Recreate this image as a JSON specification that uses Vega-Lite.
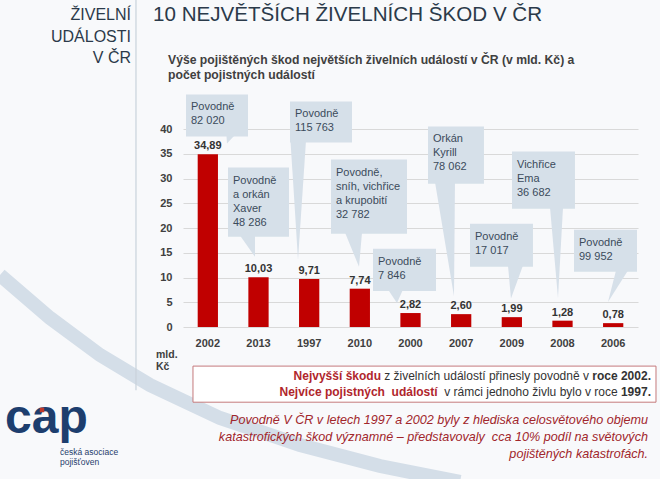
{
  "$schema": "https://vega.github.io/schema/vega-lite/v6.json",
  "width": 455,
  "height": 198,
  "autosize": {"type": "none"},
  "padding": {"left": 183, "top": 129, "right": 22, "bottom": 152},
  "background": "#f8f9fb",
  "config": {
    "view": {"stroke": null},
    "font": "Liberation Sans",
    "locale": {"number": {"decimal": ",", "thousands": "\u00a0", "grouping": [3], "currency": ["", " Kč"]}}
  },
  "datasets": {
    "bars": [
      {"year": "2002", "value": 34.89, "event": "Povodně", "claims": 82020},
      {"year": "2013", "value": 10.03, "event": "Povodně\na orkán\nXaver", "claims": 48286},
      {"year": "1997", "value": 9.71, "event": "Povodně", "claims": 115763},
      {"year": "2010", "value": 7.74, "event": "Povodně,\nsníh, vichřice\na krupobití", "claims": 32782},
      {"year": "2000", "value": 2.82, "event": "Povodně", "claims": 7846},
      {"year": "2007", "value": 2.60, "event": "Orkán\nKyrill", "claims": 78062},
      {"year": "2009", "value": 1.99, "event": "Povodně", "claims": 17017},
      {"year": "2008", "value": 1.28, "event": "Vichřice\nEma", "claims": 36682},
      {"year": "2006", "value": 0.78, "event": "Povodně", "claims": 99952}
    ],
    "callouts": [
      {"year": "2002", "x1": -0.431, "x2": 0.793, "top": 46.99, "bottom": 38.48},
      {"year": "2013", "x1": 0.398, "x2": 1.602, "top": 32.20, "bottom": 18.23},
      {"year": "1997", "x1": 1.622, "x2": 2.845, "top": 45.57, "bottom": 37.27},
      {"year": "2010", "x1": 2.431, "x2": 3.931, "top": 33.82, "bottom": 18.84},
      {"year": "2000", "x1": 3.260, "x2": 4.503, "top": 15.80, "bottom": 7.29},
      {"year": "2007", "x1": 4.345, "x2": 5.450, "top": 40.51, "bottom": 28.96},
      {"year": "2009", "x1": 5.174, "x2": 6.417, "top": 20.86, "bottom": 12.15},
      {"year": "2008", "x1": 6.003, "x2": 7.246, "top": 35.44, "bottom": 23.90},
      {"year": "2006", "x1": 7.227, "x2": 8.470, "top": 19.65, "bottom": 11.14}
    ],
    "pointers": [
      {"id": "2002", "py": 38.8, "pl": 0.368, "pr": 0.536},
      {"id": "2002", "py": 37.06, "pl": 0.378, "pr": 0.378},
      {"id": "2013", "py": 18.5, "pl": 0.635, "pr": 0.931},
      {"id": "2013", "py": 14.18, "pl": 0.931, "pr": 0.931},
      {"id": "1997", "py": 37.6, "pl": 1.632, "pr": 1.937},
      {"id": "1997", "py": 13.57, "pl": 1.780, "pr": 1.780},
      {"id": "2010", "py": 19.1, "pl": 2.707, "pr": 3.043},
      {"id": "2010", "py": 12.15, "pl": 2.984, "pr": 2.984},
      {"id": "2000", "py": 7.6, "pl": 3.556, "pr": 3.852},
      {"id": "2000", "py": 4.86, "pl": 3.733, "pr": 3.733},
      {"id": "2007", "py": 29.3, "pl": 4.483, "pr": 4.878},
      {"id": "2007", "py": 6.28, "pl": 4.858, "pr": 4.858},
      {"id": "2009", "py": 12.4, "pl": 5.924, "pr": 6.220},
      {"id": "2009", "py": 5.77, "pl": 5.983, "pr": 5.983},
      {"id": "2008", "py": 24.2, "pl": 6.753, "pr": 7.010},
      {"id": "2008", "py": 5.87, "pl": 6.911, "pr": 6.911},
      {"id": "2006", "py": 11.4, "pl": 8.056, "pr": 8.292},
      {"id": "2006", "py": 5.06, "pl": 7.898, "pr": 7.898}
    ],
    "swoosh": [
      {"sx": -4.102, "sy": 10.51},
      {"sx": -3.115, "sy": 1.82},
      {"sx": -2.128, "sy": -5.66},
      {"sx": -1.141, "sy": -11.72},
      {"sx": 0.240, "sy": -18.38},
      {"sx": 1.819, "sy": -23.84},
      {"sx": 3.398, "sy": -28.08},
      {"sx": 4.977, "sy": -31.31}
    ]
  },
  "resolve": {"scale": {"x": "independent", "y": "independent"}},
  "layer": [
    {
      "data": {"name": "bars"},
      "encoding": {
        "x": {"field": "year", "type": "nominal", "sort": null,
              "scale": {"paddingInner": 0.6, "paddingOuter": 0.29},
              "axis": {"labelAngle": 0, "domain": false, "ticks": false, "labelPadding": 10, "labelFontWeight": "bold", "labelFontSize": 11, "labelColor": "#404040", "title": null}},
        "y": {"field": "value", "type": "quantitative",
              "scale": {"domain": [0, 40], "nice": false, "zero": false},
              "axis": {"values": [0, 5, 10, 15, 20, 25, 30, 35, 40], "grid": true, "gridColor": "#d9d9d9", "domain": false, "ticks": false, "labelFontWeight": "bold", "labelFontSize": 11, "labelColor": "#404040", "labelPadding": 11, "labelOverlap": false, "title": null}}
      },
      "layer": [
        {"mark": {"type": "bar", "color": "#c00000"}},
        {"mark": {"type": "text", "baseline": "alphabetic", "dy": -5, "fontWeight": "bold", "fontSize": 11, "color": "#333333"},
         "encoding": {"text": {"field": "value", "type": "quantitative", "format": ".2f"}}}
      ]
    },
    {
      "layer": [
        {
          "data": {"name": "swoosh"},
          "mark": {"type": "point", "filled": true, "size": 10, "color": "#d4dee8", "opacity": 0},
          "encoding": {
            "x": {"field": "sx", "type": "quantitative", "scale": {"domain": [-0.49, 8.49], "nice": false, "zero": false}, "axis": null},
            "y": {"field": "sy", "type": "quantitative", "scale": {"domain": [0, 40], "nice": false, "zero": false}, "axis": null}
          }
        },
        {
          "data": {"name": "swoosh"},
          "mark": {"type": "line", "stroke": "#d4dee8", "strokeWidth": 14, "clip": false},
          "encoding": {
            "x": {"field": "sx", "type": "quantitative", "axis": null},
            "y": {"field": "sy", "type": "quantitative", "axis": null}
          }
        },
        {
          "data": {"name": "callouts"},
          "mark": {"type": "rect", "color": "#d6e0e9"},
          "encoding": {
            "x": {"field": "x1", "type": "quantitative", "axis": null},
            "x2": {"field": "x2"},
            "y": {"field": "top", "type": "quantitative", "axis": null},
            "y2": {"field": "bottom"}
          }
        },
        {
          "data": {"name": "pointers"},
          "mark": {"type": "area", "orient": "horizontal", "color": "#d6e0e9"},
          "encoding": {
            "y": {"field": "py", "type": "quantitative", "axis": null},
            "x": {"field": "pl", "type": "quantitative", "stack": null, "axis": null},
            "x2": {"field": "pr"},
            "detail": {"field": "id"}
          }
        },
        {
          "data": {"name": "callouts"},
          "transform": [
            {"lookup": "year", "from": {"data": {"name": "bars"}, "key": "year", "fields": ["event", "claims"]}},
            {"calculate": "datum.event + '\\n' + format(datum.claims, ',d')", "as": "label"}
          ],
          "mark": {"type": "text", "align": "left", "baseline": "top", "dx": 5, "dy": 7, "fontSize": 11, "lineHeight": 14, "lineBreak": "\n", "color": "#3b4b5b"},
          "encoding": {
            "x": {"field": "x1", "type": "quantitative", "axis": null},
            "y": {"field": "top", "type": "quantitative", "axis": null},
            "text": {"field": "label"}
          }
        },
        {
          "data": {"values": [{}]},
          "mark": {"type": "rule", "color": "#c9d2db", "strokeWidth": 1.2},
          "encoding": {
            "x": {"datum": -1.418, "type": "quantitative", "axis": null},
            "y": {"datum": 66.2, "type": "quantitative", "axis": null},
            "y2": {"datum": -12.76}
          }
        },
        {
          "data": {"values": [{}]},
          "mark": {"type": "text", "align": "right", "baseline": "alphabetic", "fontSize": 16, "lineHeight": 21.7, "lineBreak": "\n", "color": "#2b3a4a"},
          "encoding": {
            "x": {"datum": -1.516, "type": "quantitative", "axis": null},
            "y": {"datum": 62.0, "type": "quantitative", "axis": null},
            "text": {"value": "ŽIVELNÍ\nUDÁLOSTI\nV ČR"}
          }
        },
        {
          "data": {"values": [{}]},
          "mark": {"type": "text", "align": "left", "baseline": "alphabetic", "fontSize": 20.6, "color": "#2b3a4a"},
          "encoding": {
            "x": {"datum": -1.082, "type": "quantitative", "axis": null},
            "y": {"datum": 61.83, "type": "quantitative", "axis": null},
            "text": {"value": "10 NEJVĚTŠÍCH ŽIVELNÍCH ŠKOD V ČR"}
          }
        },
        {
          "data": {"values": [{}]},
          "mark": {"type": "text", "align": "left", "baseline": "alphabetic", "fontSize": 12.2, "fontWeight": "bold", "lineHeight": 15.3, "lineBreak": "\n", "color": "#404040"},
          "encoding": {
            "x": {"datum": -0.786, "type": "quantitative", "axis": null},
            "y": {"datum": 53.12, "type": "quantitative", "axis": null},
            "text": {"value": "Výše pojištěných škod největších živelních událostí v ČR (v mld. Kč) a\npočet pojistných  událostí"}
          }
        },
        {
          "data": {"values": [{}]},
          "mark": {"type": "text", "align": "left", "baseline": "alphabetic", "fontSize": 10.5, "fontWeight": "bold", "lineHeight": 12, "lineBreak": "\n", "color": "#404040"},
          "encoding": {
            "x": {"datum": -1.023, "type": "quantitative", "axis": null},
            "y": {"datum": -6.28, "type": "quantitative", "axis": null},
            "text": {"value": "mld.\nKč"}
          }
        },
        {
          "data": {"values": [{}]},
          "mark": {"type": "rect", "fill": "#ffffff", "stroke": "#c47a7c", "strokeWidth": 1},
          "encoding": {
            "x": {"datum": -0.293, "type": "quantitative", "axis": null},
            "x2": {"datum": 8.845},
            "y": {"datum": -7.90, "type": "quantitative", "axis": null},
            "y2": {"datum": -15.19}
          }
        },
        {
          "data": {"values": [{}]},
          "mark": {"type": "text", "align": "right", "baseline": "alphabetic", "fontSize": 12, "fontWeight": "bold", "color": "#333333"},
          "encoding": {
            "x": {"datum": 8.746, "type": "quantitative", "axis": null},
            "y": {"datum": -10.73, "type": "quantitative", "axis": null},
            "text": {"value": "roce 2002."}
          }
        },
        {
          "data": {"values": [{}]},
          "mark": {"type": "text", "align": "right", "baseline": "alphabetic", "fontSize": 12, "dx": -62, "color": "#333333"},
          "encoding": {
            "x": {"datum": 8.746, "type": "quantitative", "axis": null},
            "y": {"datum": -10.73, "type": "quantitative", "axis": null},
            "text": {"value": "z živelních událostí přinesly povodně v"}
          }
        },
        {
          "data": {"values": [{}]},
          "mark": {"type": "text", "align": "right", "baseline": "alphabetic", "fontSize": 12, "fontWeight": "bold", "dx": -270, "color": "#b0262c"},
          "encoding": {
            "x": {"datum": 8.746, "type": "quantitative", "axis": null},
            "y": {"datum": -10.73, "type": "quantitative", "axis": null},
            "text": {"value": "Nejvyšší škodu"}
          }
        },
        {
          "data": {"values": [{}]},
          "mark": {"type": "text", "align": "right", "baseline": "alphabetic", "fontSize": 12, "fontWeight": "bold", "color": "#333333"},
          "encoding": {
            "x": {"datum": 8.746, "type": "quantitative", "axis": null},
            "y": {"datum": -13.97, "type": "quantitative", "axis": null},
            "text": {"value": "1997."}
          }
        },
        {
          "data": {"values": [{}]},
          "mark": {"type": "text", "align": "right", "baseline": "alphabetic", "fontSize": 12, "dx": -33.3, "color": "#333333"},
          "encoding": {
            "x": {"datum": 8.746, "type": "quantitative", "axis": null},
            "y": {"datum": -13.97, "type": "quantitative", "axis": null},
            "text": {"value": "v rámci jednoho živlu bylo v roce"}
          }
        },
        {
          "data": {"values": [{}]},
          "mark": {"type": "text", "align": "right", "baseline": "alphabetic", "fontSize": 12, "fontWeight": "bold", "dx": -213.4, "color": "#b0262c"},
          "encoding": {
            "x": {"datum": 8.746, "type": "quantitative", "axis": null},
            "y": {"datum": -13.97, "type": "quantitative", "axis": null},
            "text": {"value": "Nejvíce pojistných\u00a0 událostí"}
          }
        },
        {
          "data": {"values": [{}]},
          "mark": {"type": "text", "align": "right", "baseline": "alphabetic", "fontSize": 12.6, "fontStyle": "italic", "lineHeight": 17, "lineBreak": "\n", "color": "#a1262b"},
          "encoding": {
            "x": {"datum": 8.687, "type": "quantitative", "axis": null},
            "y": {"datum": -19.65, "type": "quantitative", "axis": null},
            "text": {"value": "Povodně V ČR v letech 1997 a 2002 byly z hlediska celosvětového objemu\nkatastrofických škod významné – představovaly\u00a0 cca 10% podíl na světových\npojištěných katastrofách."}
          }
        },
        {
          "data": {"values": [{}]},
          "mark": {"type": "text", "align": "left", "baseline": "alphabetic", "fontSize": 48, "fontWeight": "bold", "color": "#1d3e6e"},
          "encoding": {
            "x": {"datum": -4.003, "type": "quantitative", "axis": null},
            "y": {"datum": -21.41, "type": "quantitative", "axis": null},
            "text": {"value": "cap"}
          }
        },
        {
          "data": {"values": [{}]},
          "mark": {"type": "point", "shape": "square", "filled": true, "size": 20, "color": "#c0392b", "opacity": 1},
          "encoding": {
            "x": {"datum": -3.273, "type": "quantitative", "axis": null},
            "y": {"datum": -16.77, "type": "quantitative", "axis": null}
          }
        },
        {
          "data": {"values": [{}]},
          "mark": {"type": "text", "align": "left", "baseline": "alphabetic", "fontSize": 8.5, "lineHeight": 10, "lineBreak": "\n", "color": "#1f3d6b"},
          "encoding": {
            "x": {"datum": -2.917, "type": "quantitative", "axis": null},
            "y": {"datum": -25.9, "type": "quantitative", "axis": null},
            "text": {"value": "česká asociace\npojišťoven"}
          }
        }
      ]
    }
  ]
}
